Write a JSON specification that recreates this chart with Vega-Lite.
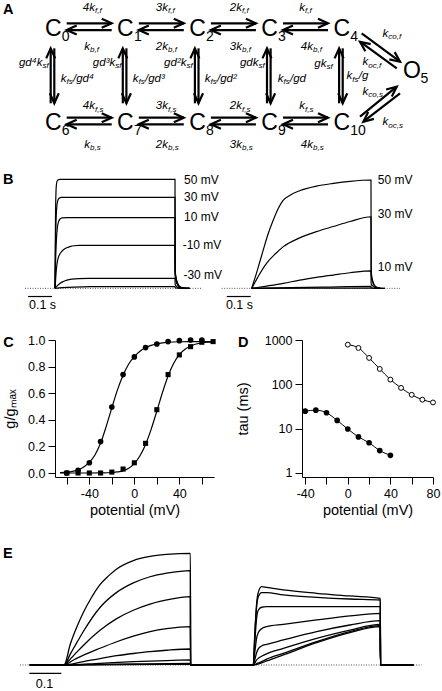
{
"$schema": "https://vega.github.io/schema/vega-lite/v6.json",
"padding": 0,
"background": "white",
"bounds": "flush",
"spacing": 0,
"columns": 2,
"config": {
  "view": {"stroke": null},
  "font": "Liberation Sans",
  "title": {"anchor": "start", "frame": "group", "fontSize": 14.5, "fontWeight": "bold", "offset": 0, "baseline": "middle", "color": "black"},
  "axis": {"domainColor": "black", "tickColor": "black", "labelColor": "black", "titleColor": "black", "grid": false, "tickSize": 7, "labelPadding": 3, "labelFontSize": 12.5, "titleFontSize": 14.5, "titleFontWeight": "normal", "labelFlush": false, "labelOverlap": false, "domainWidth": 1, "tickWidth": 1}
},
"concat": [
{
  "width": 221, "height": 152,
  "title": {"text": "A", "dx": 3, "dy": 21},
  "encoding": {
    "x": {"field": "c", "type": "quantitative", "scale": {"domain": [-0.739, 2.326], "nice": false, "zero": false}, "axis": null},
    "y": {"field": "r", "type": "quantitative", "scale": {"domain": [-0.3075, 1.3043], "nice": false, "zero": false, "reverse": true}, "axis": null}
  },
  "layer": [
    {
      "data": {"name": "arrows", "values": [
        {"c":0.186,"r":-0.06,"c2":0.81,"r2":-0.06,"d":"r"},{"c":0.81,"r":0.011,"c2":0.186,"r2":0.011,"d":"l"},
        {"c":1.186,"r":-0.06,"c2":1.81,"r2":-0.06,"d":"r"},{"c":1.81,"r":0.011,"c2":1.186,"r2":0.011,"d":"l"},
        {"c":2.186,"r":-0.06,"c2":2.81,"r2":-0.06,"d":"r"},{"c":2.81,"r":0.011,"c2":2.186,"r2":0.011,"d":"l"},
        {"c":3.186,"r":-0.06,"c2":3.81,"r2":-0.06,"d":"r"},{"c":3.81,"r":0.011,"c2":3.186,"r2":0.011,"d":"l"},
        {"c":0.186,"r":0.94,"c2":0.81,"r2":0.94,"d":"r"},{"c":0.81,"r":1.011,"c2":0.186,"r2":1.011,"d":"l"},
        {"c":1.186,"r":0.94,"c2":1.81,"r2":0.94,"d":"r"},{"c":1.81,"r":1.011,"c2":1.186,"r2":1.011,"d":"l"},
        {"c":2.186,"r":0.94,"c2":2.81,"r2":0.94,"d":"r"},{"c":2.81,"r":1.011,"c2":2.186,"r2":1.011,"d":"l"},
        {"c":3.186,"r":0.94,"c2":3.81,"r2":0.94,"d":"r"},{"c":3.81,"r":1.011,"c2":3.186,"r2":1.011,"d":"l"},
        {"c":-0.036,"r":0.788,"c2":-0.036,"r2":0.205,"d":"u"},{"c":0.014,"r":0.205,"c2":0.014,"r2":0.788,"d":"d"},
        {"c":0.964,"r":0.788,"c2":0.964,"r2":0.205,"d":"u"},{"c":1.014,"r":0.205,"c2":1.014,"r2":0.788,"d":"d"},
        {"c":1.964,"r":0.788,"c2":1.964,"r2":0.205,"d":"u"},{"c":2.014,"r":0.205,"c2":2.014,"r2":0.788,"d":"d"},
        {"c":2.964,"r":0.788,"c2":2.964,"r2":0.205,"d":"u"},{"c":3.014,"r":0.205,"c2":3.014,"r2":0.788,"d":"d"},
        {"c":3.964,"r":0.788,"c2":3.964,"r2":0.205,"d":"u"},{"c":4.014,"r":0.205,"c2":4.014,"r2":0.788,"d":"d"},
        {"c":4.277,"r":0.046,"c2":4.809,"r2":0.347,"d":"dr"},
        {"c":4.763,"r":0.417,"c2":4.254,"r2":0.135,"d":"ul"},
        {"c":4.254,"r":0.930,"c2":4.763,"r2":0.612,"d":"ur"},
        {"c":4.809,"r":0.682,"c2":4.3,"r2":0.983,"d":"dl"}
      ]},
      "mark": {"type": "rule", "stroke": "black", "strokeWidth": 2.2},
      "encoding": {"x2": {"field": "c2"}, "y2": {"field": "r2"}}
    },
    {
      "data": {"name": "arrows"},
      "mark": {"type": "point", "size": 100, "filled": false, "stroke": "black", "strokeWidth": 2.2, "opacity": 1, "strokeJoin": "miter"},
      "encoding": {
        "x": {"field": "c2", "type": "quantitative"},
        "y": {"field": "r2", "type": "quantitative"},
        "shape": {"field": "d", "type": "nominal", "legend": null, "scale": {"domain": ["r","l","u","d","dr","ul","ur","dl"], "range": [
          "M-2,-0.9L0,0L-2,0.9", "M2,-0.9L0,0L2,0.9", "M-0.9,2L0,0L0.9,2", "M-0.9,-2L0,0L0.9,-2",
          "M-2.142,-0.469L0,0L-1.07,-1.915", "M2.142,0.469L0,0L1.07,1.915", "M-0.978,1.963L0,0L-2.118,0.569", "M0.978,-1.963L0,0L2.118,-0.569"]}}
      }
    },
    {
      "data": {"name": "nodes", "values": [
        {"n":"C","s":"0","c":0,"r":0},{"n":"C","s":"1","c":1,"r":0},{"n":"C","s":"2","c":2,"r":0},{"n":"C","s":"3","c":3,"r":0},{"n":"C","s":"4","c":4,"r":0},
        {"n":"O","s":"5","c":4.975,"r":0.445},
        {"n":"C","s":"6","c":0,"r":1},{"n":"C","s":"7","c":1,"r":1},{"n":"C","s":"8","c":2,"r":1},{"n":"C","s":"9","c":3,"r":1},{"n":"C","s":"10","c":4,"r":1}
      ]},
      "mark": {"type": "text", "fontSize": 23, "align": "center", "baseline": "middle", "color": "black"},
      "encoding": {"text": {"field": "n"}}
    },
    {
      "data": {"name": "nodes"},
      "mark": {"type": "text", "fontSize": 14, "align": "left", "baseline": "middle", "dx": 8.5, "dy": 8, "color": "black"},
      "encoding": {"text": {"field": "s"}}
    },
    {
      "data": {"name": "rates", "values": [
        {"m":"4k","s":"f,f","c":0.578,"r":-0.225},{"m":"3k","s":"f,f","c":1.591,"r":-0.225},{"m":"2k","s":"f,f","c":2.617,"r":-0.225},{"m":"k","s":"f,f","c":3.491,"r":-0.225},
        {"m":"k","s":"b,f","c":0.509,"r":0.188},{"m":"2k","s":"b,f","c":1.591,"r":0.188},{"m":"3k","s":"b,f","c":2.617,"r":0.188},{"m":"4k","s":"b,f","c":3.602,"r":0.188},
        {"m":"4k","s":"f,s","c":0.578,"r":0.817},{"m":"3k","s":"f,s","c":1.591,"r":0.817},{"m":"2k","s":"f,s","c":2.617,"r":0.817},{"m":"k","s":"f,s","c":3.491,"r":0.817},
        {"m":"k","s":"b,s","c":0.509,"r":1.23},{"m":"2k","s":"b,s","c":1.591,"r":1.23},{"m":"3k","s":"b,s","c":2.617,"r":1.23},{"m":"4k","s":"b,s","c":3.602,"r":1.23},
        {"m":"gd⁴k","s":"sf","c":-0.15,"r":0.36},{"m":"gd³k","s":"sf","c":0.859,"r":0.36},{"m":"gd²k","s":"sf","c":1.847,"r":0.36},{"m":"gdk","s":"sf","c":2.846,"r":0.36},{"m":"gk","s":"sf","c":3.789,"r":0.37},
        {"m":"k","s":"fs","p":"/gd⁴","c":0.183,"r":0.53},{"m":"k","s":"fs","p":"/gd³","c":1.182,"r":0.53},{"m":"k","s":"fs","p":"/gd²","c":2.18,"r":0.53},{"m":"k","s":"fs","p":"/gd","c":3.193,"r":0.53},{"m":"k","s":"fs","p":"/g","c":4.146,"r":0.5},
        {"m":"k","s":"co,f","c":4.646,"r":0.053},{"m":"k","s":"oc,f","c":4.369,"r":0.35},{"m":"k","s":"co,s","c":4.369,"r":0.668},{"m":"k","s":"oc,s","c":4.646,"r":0.99}
      ]},
      "mark": {"type": "text", "fontSize": 11.5, "fontStyle": "italic", "align": "right", "baseline": "middle", "color": "black"},
      "encoding": {"text": {"field": "m"}}
    },
    {
      "data": {"name": "rates"},
      "mark": {"type": "text", "fontSize": 8, "fontStyle": "italic", "align": "left", "baseline": "middle", "dy": 3.5, "color": "black"},
      "encoding": {"text": {"field": "s"}}
    },
    {
      "data": {"name": "rates"},
      "transform": [{"filter": "datum.p"}],
      "mark": {"type": "text", "fontSize": 11.5, "fontStyle": "italic", "align": "left", "baseline": "middle", "dx": 6.5, "color": "black"},
      "encoding": {"text": {"field": "p"}}
    }
  ]
},
{"width": 221, "height": 152, "data": {"values": []}, "mark": "point"},
{
  "width": 221, "height": 188,
  "title": {"text": "B", "dx": 3, "dy": 39},
  "encoding": {
    "x": {"field": "t", "type": "quantitative", "scale": {"domain": [-0.2292, 0.6917], "nice": false, "zero": false}, "axis": null},
    "y": {"field": "v", "type": "quantitative", "scale": {"domain": [-0.474, 1.251], "nice": false, "zero": false}, "axis": null}
  },
  "layer": [
    {"data": {"values": [{"t": -0.125, "t2": 0.611, "v": 0}]}, "mark": {"type": "rule", "strokeDash": [1, 1.5], "stroke": "#555", "strokeWidth": 1}, "encoding": {"x2": {"field": "t2"}}},
    {"data": {"values": [
      {"s":"50","t":0,"v":0},{"s":"50","t":0.002,"v":0.63},{"s":"50","t":0.004,"v":0.88},{"s":"50","t":0.007,"v":0.97},{"s":"50","t":0.012,"v":0.995},{"s":"50","t":0.02,"v":1.0},{"s":"50","t":0.5,"v":1.0},{"s":"50","t":0.5008,"v":0.16},{"s":"50","t":0.505,"v":0.09},{"s":"50","t":0.51,"v":0.05},{"s":"50","t":0.52,"v":0.015},{"s":"50","t":0.535,"v":0.003},{"s":"50","t":0.56,"v":0},
      {"s":"30","t":0,"v":0},{"s":"30","t":0.002,"v":0.4},{"s":"30","t":0.004,"v":0.6},{"s":"30","t":0.007,"v":0.74},{"s":"30","t":0.011,"v":0.8},{"s":"30","t":0.017,"v":0.826},{"s":"30","t":0.027,"v":0.835},{"s":"30","t":0.5,"v":0.835},{"s":"30","t":0.5008,"v":0.15},{"s":"30","t":0.505,"v":0.085},{"s":"30","t":0.51,"v":0.047},{"s":"30","t":0.52,"v":0.014},{"s":"30","t":0.535,"v":0.003},{"s":"30","t":0.56,"v":0},
      {"s":"10","t":0,"v":0},{"s":"10","t":0.003,"v":0.29},{"s":"10","t":0.006,"v":0.45},{"s":"10","t":0.01,"v":0.56},{"s":"10","t":0.015,"v":0.612},{"s":"10","t":0.02,"v":0.634},{"s":"10","t":0.03,"v":0.646},{"s":"10","t":0.05,"v":0.648},{"s":"10","t":0.5,"v":0.648},{"s":"10","t":0.5008,"v":0.14},{"s":"10","t":0.505,"v":0.08},{"s":"10","t":0.51,"v":0.044},{"s":"10","t":0.52,"v":0.013},{"s":"10","t":0.535,"v":0.003},{"s":"10","t":0.56,"v":0},
      {"s":"-10","t":0,"v":0},{"s":"-10","t":0.002,"v":0.06},{"s":"-10","t":0.004,"v":0.13},{"s":"-10","t":0.007,"v":0.2},{"s":"-10","t":0.01,"v":0.245},{"s":"-10","t":0.014,"v":0.284},{"s":"-10","t":0.02,"v":0.315},{"s":"-10","t":0.028,"v":0.338},{"s":"-10","t":0.038,"v":0.358},{"s":"-10","t":0.049,"v":0.372},{"s":"-10","t":0.065,"v":0.385},{"s":"-10","t":0.08,"v":0.391},{"s":"-10","t":0.1,"v":0.394},{"s":"-10","t":0.5,"v":0.394},{"s":"-10","t":0.5008,"v":0.11},{"s":"-10","t":0.505,"v":0.063},{"s":"-10","t":0.51,"v":0.035},{"s":"-10","t":0.52,"v":0.01},{"s":"-10","t":0.535,"v":0.002},{"s":"-10","t":0.56,"v":0},
      {"s":"-30","t":0,"v":0},{"s":"-30","t":0.01,"v":0.025},{"s":"-30","t":0.02,"v":0.045},{"s":"-30","t":0.035,"v":0.063},{"s":"-30","t":0.05,"v":0.075},{"s":"-30","t":0.07,"v":0.084},{"s":"-30","t":0.1,"v":0.09},{"s":"-30","t":0.14,"v":0.092},{"s":"-30","t":0.5,"v":0.092},{"s":"-30","t":0.5008,"v":0.035},{"s":"-30","t":0.505,"v":0.02},{"s":"-30","t":0.51,"v":0.011},{"s":"-30","t":0.52,"v":0.003},{"s":"-30","t":0.56,"v":0},
      {"s":"-50","t":0,"v":0},{"s":"-50","t":0.03,"v":0.006},{"s":"-50","t":0.08,"v":0.012},{"s":"-50","t":0.15,"v":0.015},{"s":"-50","t":0.5,"v":0.015},{"s":"-50","t":0.5008,"v":0.005},{"s":"-50","t":0.51,"v":0.002},{"s":"-50","t":0.56,"v":0}
    ]}, "mark": {"type": "line", "interpolate": "monotone", "stroke": "black", "strokeWidth": 1.2}, "encoding": {"detail": {"field": "s"}}},
    {"data": {"values": [{"t":0.538,"v":0.994,"label":"50 mV"},{"t":0.538,"v":0.835,"label":"30 mV"},{"t":0.538,"v":0.652,"label":"10 mV"},{"t":0.532,"v":0.4,"label":"-10 mV"},{"t":0.535,"v":0.122,"label":"-30 mV"}]},
     "mark": {"type": "text", "align": "left", "baseline": "middle", "fontSize": 12, "color": "black"}, "encoding": {"text": {"field": "label"}}},
    {"data": {"values": [{"t": -0.1125, "t2": -0.0125, "v": -0.075}]}, "mark": {"type": "rule", "stroke": "black", "strokeWidth": 1.2}, "encoding": {"x2": {"field": "t2"}}},
    {"data": {"values": [{"t": -0.052, "v": -0.153, "label": "0.1 s"}]}, "mark": {"type": "text", "align": "center", "baseline": "middle", "fontSize": 12.5, "color": "black"}, "encoding": {"text": {"field": "label"}}}
  ]
},
{
  "width": 221, "height": 188,
  "encoding": {
    "x": {"field": "t", "type": "quantitative", "scale": {"domain": [-0.1279, 0.7929], "nice": false, "zero": false}, "axis": null},
    "y": {"field": "v", "type": "quantitative", "scale": {"domain": [-0.474, 1.251], "nice": false, "zero": false}, "axis": null}
  },
  "layer": [
    {"data": {"values": [{"t": -0.125, "t2": 0.618, "v": 0}]}, "mark": {"type": "rule", "strokeDash": [1, 1.5], "stroke": "#555", "strokeWidth": 1}, "encoding": {"x2": {"field": "t2"}}},
    {"data": {"values": [
      {"s":"50","t":0,"v":0},{"s":"50","t":0.01,"v":0.07},{"s":"50","t":0.02,"v":0.14},{"s":"50","t":0.03,"v":0.215},{"s":"50","t":0.048,"v":0.351},{"s":"50","t":0.07,"v":0.51},{"s":"50","t":0.09,"v":0.627},{"s":"50","t":0.11,"v":0.73},{"s":"50","t":0.13,"v":0.805},{"s":"50","t":0.16,"v":0.855},{"s":"50","t":0.2,"v":0.896},{"s":"50","t":0.27,"v":0.938},{"s":"50","t":0.34,"v":0.963},{"s":"50","t":0.41,"v":0.982},{"s":"50","t":0.497,"v":0.994},{"s":"50","t":0.4978,"v":0.16},{"s":"50","t":0.502,"v":0.09},{"s":"50","t":0.507,"v":0.05},{"s":"50","t":0.517,"v":0.015},{"s":"50","t":0.532,"v":0.003},{"s":"50","t":0.555,"v":0},
      {"s":"30","t":0,"v":0},{"s":"30","t":0.015,"v":0.06},{"s":"30","t":0.03,"v":0.12},{"s":"30","t":0.0625,"v":0.232},{"s":"30","t":0.1,"v":0.32},{"s":"30","t":0.132,"v":0.383},{"s":"30","t":0.2,"v":0.463},{"s":"30","t":0.27,"v":0.52},{"s":"30","t":0.34,"v":0.567},{"s":"30","t":0.41,"v":0.613},{"s":"30","t":0.497,"v":0.657},{"s":"30","t":0.4978,"v":0.12},{"s":"30","t":0.502,"v":0.07},{"s":"30","t":0.507,"v":0.04},{"s":"30","t":0.517,"v":0.012},{"s":"30","t":0.532,"v":0.002},{"s":"30","t":0.555,"v":0},
      {"s":"10","t":0,"v":0},{"s":"10","t":0.0625,"v":0.021},{"s":"10","t":0.132,"v":0.046},{"s":"10","t":0.2,"v":0.075},{"s":"10","t":0.27,"v":0.1},{"s":"10","t":0.34,"v":0.122},{"s":"10","t":0.41,"v":0.143},{"s":"10","t":0.497,"v":0.161},{"s":"10","t":0.4978,"v":0.04},{"s":"10","t":0.505,"v":0.02},{"s":"10","t":0.515,"v":0.006},{"s":"10","t":0.535,"v":0},
      {"s":"-10","t":0,"v":0},{"s":"-10","t":0.1,"v":0.005},{"s":"-10","t":0.3,"v":0.012},{"s":"-10","t":0.497,"v":0.018},{"s":"-10","t":0.4978,"v":0.005},{"s":"-10","t":0.51,"v":0.001},{"s":"-10","t":0.535,"v":0},
      {"s":"-30","t":0,"v":0},{"s":"-30","t":0.497,"v":0.003},{"s":"-30","t":0.4978,"v":0.001},{"s":"-30","t":0.53,"v":0}
    ]}, "mark": {"type": "line", "interpolate": "monotone", "stroke": "black", "strokeWidth": 1.2}, "encoding": {"detail": {"field": "s"}}},
    {"data": {"values": [{"t":0.525,"v":0.994,"label":"50 mV"},{"t":0.525,"v":0.682,"label":"30 mV"},{"t":0.525,"v":0.198,"label":"10 mV"}]},
     "mark": {"type": "text", "align": "left", "baseline": "middle", "fontSize": 12, "color": "black"}, "encoding": {"text": {"field": "label"}}},
    {"data": {"values": [{"t": -0.104, "t2": -0.004, "v": -0.075}]}, "mark": {"type": "rule", "stroke": "black", "strokeWidth": 1.2}, "encoding": {"x2": {"field": "t2"}}},
    {"data": {"values": [{"t": -0.051, "v": -0.153, "label": "0.1 s"}]}, "mark": {"type": "text", "align": "center", "baseline": "middle", "fontSize": 12.5, "color": "black"}, "encoding": {"text": {"field": "label"}}}
  ]
},
{
  "width": 221, "height": 137,
  "title": {"text": "C", "dx": 3.3, "dy": 20},
  "encoding": {
    "x": {"field": "V", "type": "quantitative", "scale": {"domain": [-70.5, 70.8], "range": [55, 214], "nice": false, "zero": false},
          "axis": {"title": "potential (mV)", "values": [-60,-40,-20,0,20,40,60], "labelExpr": "datum.value % 40 === 0 ? '' + datum.value : ''"}},
    "y": {"field": "g", "type": "quantitative", "scale": {"domain": [-0.03, 1.0], "nice": false, "zero": false},
          "axis": {"title": "g/gₘₐₓ", "values": [0,0.2,0.4,0.6,0.8,1], "format": ".1f", "titlePadding": 10, "offset": -55}}
  },
  "layer": [
    {"data": {"values": [
      {"s":"fast","V":-66,"g":0.003},{"s":"fast","V":-60,"g":0.006},{"s":"fast","V":-55,"g":0.012},{"s":"fast","V":-50,"g":0.024},{"s":"fast","V":-45,"g":0.045},{"s":"fast","V":-40,"g":0.08},{"s":"fast","V":-35,"g":0.135},{"s":"fast","V":-30,"g":0.225},{"s":"fast","V":-25,"g":0.35},{"s":"fast","V":-20,"g":0.49},{"s":"fast","V":-15,"g":0.625},{"s":"fast","V":-10,"g":0.735},{"s":"fast","V":-5,"g":0.82},{"s":"fast","V":0,"g":0.875},{"s":"fast","V":5,"g":0.915},{"s":"fast","V":10,"g":0.943},{"s":"fast","V":15,"g":0.96},{"s":"fast","V":20,"g":0.972},{"s":"fast","V":25,"g":0.979},{"s":"fast","V":30,"g":0.983},{"s":"fast","V":40,"g":0.987},{"s":"fast","V":50,"g":0.988},{"s":"fast","V":60,"g":0.988},{"s":"fast","V":70.8,"g":0.988},
      {"s":"slow","V":-66,"g":0},{"s":"slow","V":-40,"g":0},{"s":"slow","V":-30,"g":0.001},{"s":"slow","V":-20,"g":0.004},{"s":"slow","V":-15,"g":0.008},{"s":"slow","V":-10,"g":0.016},{"s":"slow","V":-5,"g":0.035},{"s":"slow","V":0,"g":0.07},{"s":"slow","V":5,"g":0.13},{"s":"slow","V":10,"g":0.215},{"s":"slow","V":15,"g":0.33},{"s":"slow","V":20,"g":0.465},{"s":"slow","V":25,"g":0.605},{"s":"slow","V":30,"g":0.73},{"s":"slow","V":35,"g":0.825},{"s":"slow","V":40,"g":0.89},{"s":"slow","V":45,"g":0.93},{"s":"slow","V":50,"g":0.955},{"s":"slow","V":55,"g":0.97},{"s":"slow","V":60,"g":0.978},{"s":"slow","V":65,"g":0.983},{"s":"slow","V":70.8,"g":0.986}
    ]}, "mark": {"type": "line", "interpolate": "monotone", "stroke": "black", "strokeWidth": 1.2}, "encoding": {"detail": {"field": "s"}}},
    {"data": {"name": "cpts", "values": [
      {"s":"fast","V":-60,"g":0.0},{"s":"fast","V":-50,"g":0.02},{"s":"fast","V":-40,"g":0.077},{"s":"fast","V":-30,"g":0.236},{"s":"fast","V":-20,"g":0.496},{"s":"fast","V":-10,"g":0.74},{"s":"fast","V":0,"g":0.873},{"s":"fast","V":10,"g":0.943},{"s":"fast","V":20,"g":0.97},{"s":"fast","V":30,"g":0.988},{"s":"fast","V":40,"g":0.995},{"s":"fast","V":50,"g":1.0},{"s":"fast","V":60,"g":1.0},
      {"s":"slow","V":-60,"g":0.0},{"s":"slow","V":-50,"g":0.0},{"s":"slow","V":-40,"g":0.0},{"s":"slow","V":-30,"g":0.0},{"s":"slow","V":-20,"g":0.007},{"s":"slow","V":-10,"g":0.03},{"s":"slow","V":0,"g":0.077},{"s":"slow","V":10,"g":0.223},{"s":"slow","V":20,"g":0.476},{"s":"slow","V":30,"g":0.74},{"s":"slow","V":40,"g":0.888},{"s":"slow","V":50,"g":0.95},{"s":"slow","V":60,"g":0.983},{"s":"slow","V":70,"g":0.988}
    ]}, "transform": [{"filter": "datum.s === 'fast'"}], "mark": {"type": "circle", "color": "black", "size": 32, "opacity": 1}},
    {"data": {"name": "cpts"}, "transform": [{"filter": "datum.s === 'slow'"}], "mark": {"type": "square", "color": "black", "size": 26, "opacity": 1}}
  ]
},
{
  "width": 221, "height": 137,
  "title": {"text": "D", "dx": 17, "dy": 20},
  "encoding": {
    "x": {"field": "V", "type": "quantitative", "scale": {"domain": [-43, 80], "range": [81, 212], "nice": false, "zero": false},
          "axis": {"title": "potential (mV)", "values": [-40,-20,0,20,40,60,80], "labelExpr": "datum.value % 40 === 0 ? '' + datum.value : ''"}},
    "y": {"field": "tau", "type": "quantitative", "scale": {"type": "log", "domain": [0.81, 1000], "nice": false},
          "axis": {"title": "tau (ms)", "values": [1,10,100,1000], "format": "d", "titlePadding": 14, "offset": -81}}
  },
  "layer": [
    {"data": {"name": "dd", "values": [
      {"s":"slow","V":0,"tau":785},{"s":"slow","V":10,"tau":661},{"s":"slow","V":20,"tau":394},{"s":"slow","V":30,"tau":222},{"s":"slow","V":40,"tau":128},{"s":"slow","V":50,"tau":83},{"s":"slow","V":60,"tau":58},{"s":"slow","V":70,"tau":45},{"s":"slow","V":80,"tau":39},
      {"s":"fast","V":-40,"tau":24.8},{"s":"fast","V":-30,"tau":26.1},{"s":"fast","V":-20,"tau":22.8},{"s":"fast","V":-10,"tau":15.3},{"s":"fast","V":0,"tau":9.8},{"s":"fast","V":10,"tau":6.5},{"s":"fast","V":20,"tau":4.8},{"s":"fast","V":30,"tau":3.2},{"s":"fast","V":40,"tau":2.5}
    ]}, "mark": {"type": "line", "interpolate": "monotone", "stroke": "black", "strokeWidth": 1}, "encoding": {"detail": {"field": "s"}}},
    {"data": {"name": "dd"}, "transform": [{"filter": "datum.s === 'slow'"}], "mark": {"type": "point", "filled": true, "fill": "white", "stroke": "black", "strokeWidth": 1, "size": 24, "opacity": 1}},
    {"data": {"name": "dd"}, "transform": [{"filter": "datum.s === 'fast'"}], "mark": {"type": "circle", "color": "black", "size": 32, "opacity": 1}}
  ]
},
{
  "width": 221, "height": 214,
  "title": {"text": "E", "dx": 3, "dy": 88},
  "encoding": {
    "x": {"field": "t", "type": "quantitative", "scale": {"domain": [-0.2, 0.4906], "nice": false, "zero": false}, "axis": null},
    "y": {"field": "v", "type": "quantitative", "scale": {"domain": [-0.2328, 1.683], "nice": false, "zero": false}, "axis": null}
  },
  "layer": [
    {"data": {"values": [{"t": -0.1375, "t2": 0.4906, "v": 0}]}, "mark": {"type": "rule", "strokeDash": [1, 1.5], "stroke": "#555", "strokeWidth": 1}, "encoding": {"x2": {"field": "t2"}}},
    {"data": {"values": [
      {"s":"1","t":-0.107,"v":0},{"s":"1","t":0,"v":0},{"s":"1","t":0.02,"v":0.19},{"s":"1","t":0.04,"v":0.34},{"s":"1","t":0.0604,"v":0.47},{"s":"1","t":0.085,"v":0.6},{"s":"1","t":0.1125,"v":0.72},{"s":"1","t":0.14,"v":0.8},{"s":"1","t":0.1646,"v":0.86},{"s":"1","t":0.2167,"v":0.935},{"s":"1","t":0.2688,"v":0.972},{"s":"1","t":0.3208,"v":0.99},{"s":"1","t":0.395,"v":1.0},{"s":"1","t":0.3955,"v":0},{"s":"1","t":0.49,"v":0},
      {"s":"2","t":-0.107,"v":0},{"s":"2","t":0,"v":0},{"s":"2","t":0.02,"v":0.1},{"s":"2","t":0.04,"v":0.2},{"s":"2","t":0.0604,"v":0.3},{"s":"2","t":0.1125,"v":0.515},{"s":"2","t":0.1646,"v":0.65},{"s":"2","t":0.2167,"v":0.735},{"s":"2","t":0.2688,"v":0.79},{"s":"2","t":0.3208,"v":0.822},{"s":"2","t":0.395,"v":0.845},{"s":"2","t":0.3955,"v":0},{"s":"2","t":0.49,"v":0},
      {"s":"3","t":-0.107,"v":0},{"s":"3","t":0,"v":0},{"s":"3","t":0.02,"v":0.055},{"s":"3","t":0.04,"v":0.115},{"s":"3","t":0.0604,"v":0.175},{"s":"3","t":0.1125,"v":0.31},{"s":"3","t":0.1646,"v":0.415},{"s":"3","t":0.2167,"v":0.49},{"s":"3","t":0.2688,"v":0.545},{"s":"3","t":0.3208,"v":0.582},{"s":"3","t":0.395,"v":0.612},{"s":"3","t":0.3955,"v":0},{"s":"3","t":0.49,"v":0},
      {"s":"4","t":-0.107,"v":0},{"s":"4","t":0,"v":0},{"s":"4","t":0.03,"v":0.045},{"s":"4","t":0.0604,"v":0.088},{"s":"4","t":0.1125,"v":0.15},{"s":"4","t":0.1646,"v":0.208},{"s":"4","t":0.2167,"v":0.258},{"s":"4","t":0.2688,"v":0.298},{"s":"4","t":0.3208,"v":0.325},{"s":"4","t":0.395,"v":0.343},{"s":"4","t":0.3955,"v":0},{"s":"4","t":0.49,"v":0},
      {"s":"5","t":-0.107,"v":0},{"s":"5","t":0,"v":0},{"s":"5","t":0.0604,"v":0.03},{"s":"5","t":0.1125,"v":0.058},{"s":"5","t":0.1646,"v":0.083},{"s":"5","t":0.2167,"v":0.103},{"s":"5","t":0.2688,"v":0.12},{"s":"5","t":0.3208,"v":0.132},{"s":"5","t":0.395,"v":0.143},{"s":"5","t":0.3955,"v":0},{"s":"5","t":0.49,"v":0},
      {"s":"6","t":-0.107,"v":0},{"s":"6","t":0,"v":0},{"s":"6","t":0.1125,"v":0.015},{"s":"6","t":0.2167,"v":0.03},{"s":"6","t":0.3208,"v":0.04},{"s":"6","t":0.395,"v":0.045},{"s":"6","t":0.3955,"v":0},{"s":"6","t":0.49,"v":0},
      {"s":"7","t":-0.107,"v":0},{"s":"7","t":0,"v":0},{"s":"7","t":0.1125,"v":0.005},{"s":"7","t":0.2167,"v":0.01},{"s":"7","t":0.395,"v":0.015},{"s":"7","t":0.3955,"v":0},{"s":"7","t":0.49,"v":0},
      {"s":"8","t":-0.107,"v":0},{"s":"8","t":0,"v":0},{"s":"8","t":0.2,"v":0.003},{"s":"8","t":0.395,"v":0.006},{"s":"8","t":0.3955,"v":0},{"s":"8","t":0.49,"v":0}
    ]}, "mark": {"type": "line", "interpolate": "monotone", "stroke": "black", "strokeWidth": 1.3}, "encoding": {"detail": {"field": "s"}}},
    {"data": {"values": [{"t": -0.1084, "t2": -0.0084, "v": -0.0743}]}, "mark": {"type": "rule", "stroke": "black", "strokeWidth": 1.2}, "encoding": {"x2": {"field": "t2"}}},
    {"data": {"values": [{"t": -0.0609, "v": -0.168, "label": "0.1"}]}, "mark": {"type": "text", "align": "center", "baseline": "middle", "fontSize": 12.5, "color": "black"}, "encoding": {"text": {"field": "label"}}}
  ]
},
{
  "width": 221, "height": 214,
  "encoding": {
    "x": {"field": "t", "type": "quantitative", "scale": {"domain": [-0.1009, 0.5897], "nice": false, "zero": false}, "axis": null},
    "y": {"field": "v", "type": "quantitative", "scale": {"domain": [-0.2328, 1.683], "nice": false, "zero": false}, "axis": null}
  },
  "layer": [
    {"data": {"values": [{"t": -0.1009, "t2": 0.526, "v": 0}]}, "mark": {"type": "rule", "strokeDash": [1, 1.5], "stroke": "#555", "strokeWidth": 1}, "encoding": {"x2": {"field": "t2"}}},
    {"data": {"values": [
      {"s":"1","t":-0.1,"v":0},{"s":"1","t":0,"v":0},{"s":"1","t":0.005,"v":0.3},{"s":"1","t":0.0104,"v":0.55},{"s":"1","t":0.0156,"v":0.65},{"s":"1","t":0.026,"v":0.701},{"s":"1","t":0.0417,"v":0.695},{"s":"1","t":0.0938,"v":0.672},{"s":"1","t":0.198,"v":0.642},{"s":"1","t":0.302,"v":0.618},{"s":"1","t":0.397,"v":0.597},{"s":"1","t":0.3975,"v":0},{"s":"1","t":0.5,"v":0},
      {"s":"2","t":-0.1,"v":0},{"s":"2","t":0,"v":0},{"s":"2","t":0.005,"v":0.28},{"s":"2","t":0.0104,"v":0.52},{"s":"2","t":0.0156,"v":0.61},{"s":"2","t":0.026,"v":0.648},{"s":"2","t":0.0417,"v":0.648},{"s":"2","t":0.0938,"v":0.627},{"s":"2","t":0.198,"v":0.606},{"s":"2","t":0.302,"v":0.591},{"s":"2","t":0.397,"v":0.582},{"s":"2","t":0.3975,"v":0},{"s":"2","t":0.5,"v":0},
      {"s":"3","t":-0.1,"v":0},{"s":"3","t":0,"v":0},{"s":"3","t":0.005,"v":0.22},{"s":"3","t":0.0104,"v":0.42},{"s":"3","t":0.0156,"v":0.49},{"s":"3","t":0.026,"v":0.517},{"s":"3","t":0.0417,"v":0.522},{"s":"3","t":0.0938,"v":0.522},{"s":"3","t":0.198,"v":0.522},{"s":"3","t":0.302,"v":0.522},{"s":"3","t":0.397,"v":0.522},{"s":"3","t":0.3975,"v":0},{"s":"3","t":0.5,"v":0},
      {"s":"4","t":-0.1,"v":0},{"s":"4","t":0,"v":0},{"s":"4","t":0.005,"v":0.12},{"s":"4","t":0.0104,"v":0.24},{"s":"4","t":0.0156,"v":0.29},{"s":"4","t":0.026,"v":0.325},{"s":"4","t":0.0417,"v":0.343},{"s":"4","t":0.0938,"v":0.364},{"s":"4","t":0.198,"v":0.403},{"s":"4","t":0.302,"v":0.439},{"s":"4","t":0.397,"v":0.463},{"s":"4","t":0.3975,"v":0},{"s":"4","t":0.5,"v":0},
      {"s":"5","t":-0.1,"v":0},{"s":"5","t":0,"v":0},{"s":"5","t":0.005,"v":0.05},{"s":"5","t":0.0104,"v":0.11},{"s":"5","t":0.0156,"v":0.145},{"s":"5","t":0.026,"v":0.17},{"s":"5","t":0.0417,"v":0.185},{"s":"5","t":0.0938,"v":0.224},{"s":"5","t":0.198,"v":0.299},{"s":"5","t":0.302,"v":0.358},{"s":"5","t":0.397,"v":0.397},{"s":"5","t":0.3975,"v":0},{"s":"5","t":0.5,"v":0},
      {"s":"6","t":-0.1,"v":0},{"s":"6","t":0,"v":0},{"s":"6","t":0.005,"v":0.02},{"s":"6","t":0.0104,"v":0.045},{"s":"6","t":0.0156,"v":0.06},{"s":"6","t":0.026,"v":0.078},{"s":"6","t":0.0417,"v":0.1},{"s":"6","t":0.0938,"v":0.149},{"s":"6","t":0.198,"v":0.239},{"s":"6","t":0.302,"v":0.313},{"s":"6","t":0.397,"v":0.364},{"s":"6","t":0.3975,"v":0},{"s":"6","t":0.5,"v":0},
      {"s":"7","t":-0.1,"v":0},{"s":"7","t":0,"v":0},{"s":"7","t":0.005,"v":0.005},{"s":"7","t":0.0104,"v":0.012},{"s":"7","t":0.0156,"v":0.018},{"s":"7","t":0.026,"v":0.03},{"s":"7","t":0.0417,"v":0.052},{"s":"7","t":0.0938,"v":0.104},{"s":"7","t":0.198,"v":0.209},{"s":"7","t":0.302,"v":0.299},{"s":"7","t":0.397,"v":0.352},{"s":"7","t":0.3975,"v":0},{"s":"7","t":0.5,"v":0},
      {"s":"8","t":-0.1,"v":0},{"s":"8","t":0,"v":0},{"s":"8","t":0.005,"v":0.002},{"s":"8","t":0.0104,"v":0.005},{"s":"8","t":0.0156,"v":0.009},{"s":"8","t":0.026,"v":0.018},{"s":"8","t":0.0417,"v":0.036},{"s":"8","t":0.0938,"v":0.09},{"s":"8","t":0.198,"v":0.2},{"s":"8","t":0.302,"v":0.29},{"s":"8","t":0.397,"v":0.343},{"s":"8","t":0.3975,"v":0},{"s":"8","t":0.5,"v":0}
    ]}, "mark": {"type": "line", "interpolate": "monotone", "stroke": "black", "strokeWidth": 1.3}, "encoding": {"detail": {"field": "s"}}}
  ]
}
]
}
